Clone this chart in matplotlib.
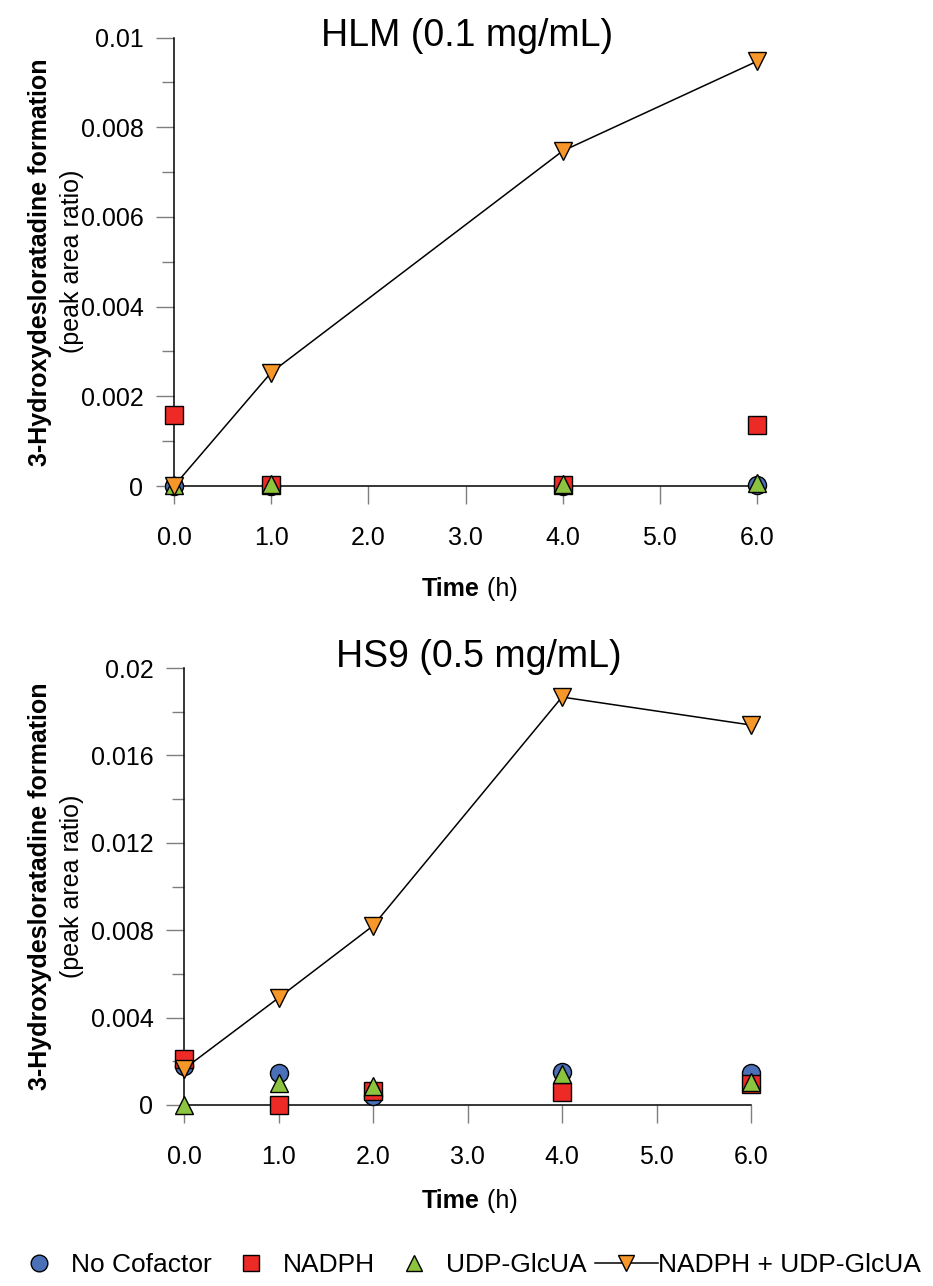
import matplotlib as mpl
mpl.use('Agg')
import matplotlib.pyplot as plt
from matplotlib.lines import Line2D
from matplotlib.ticker import MultipleLocator, FuncFormatter
from matplotlib.transforms import blended_transform_factory

plt.rcParams['font.family'] = ['Liberation Sans', 'DejaVu Sans']

# HLM incubation (0.1 mg/mL)
hlm_time = [0, 1, 4, 6]
hlm_none = [0.0, 0.0, 0.0, 0.00003]
hlm_nadph = [0.00158, 0.00002, 0.00002, 0.00136]
hlm_udp = [0.00002, 0.00004, 0.00004, 0.00007]
hlm_both = [0.0, 0.00253, 0.00747, 0.00947]

# HS9 incubation (0.5 mg/mL)
hs9_time = [0, 1, 2, 4, 6]
hs9_none = [0.0018, 0.00147, 0.0004, 0.0015, 0.00145]
hs9_nadph = [0.0021, 0.0, 0.00065, 0.0006, 0.00097]
hs9_udp = [0.0, 0.001, 0.00087, 0.0014, 0.00105]
hs9_both = [0.00165, 0.0049, 0.0082, 0.01867, 0.01739]

series_labels = ['No Cofactor', 'NADPH', 'UDP-GlcUA', 'NADPH + UDP-GlcUA']
colors = ['#4A70B8', '#EE2A26', '#8DC43F', '#F7972A']
markers = ['o', 's', '^', 'v']

W, H = 933, 1286
fig = plt.figure(figsize=(W / 100, H / 100), dpi=100)


def px_axes(left, right, top, bottom):
    return fig.add_axes([left / W, 1 - bottom / H, (right - left) / W, (bottom - top) / H])


def draw_panel(ax, t, ys, ymax, ymajor, title, title_xy):
    for i, y in enumerate(ys):
        if i == 3:
            ax.plot(t, y, color='black', lw=1.1, zorder=3, clip_on=False)
        ax.plot(t, y, linestyle='none', marker=markers[i], ms=13, mfc=colors[i],
                mec='black', mew=1.0, zorder=4 + i, clip_on=False)
    ax.set_xlim(0, 6)
    ax.set_ylim(0, ymax)
    ax.spines['top'].set_visible(False)
    ax.spines['right'].set_visible(False)
    for s in ('left', 'bottom'):
        ax.spines[s].set_linewidth(1.1)
        ax.spines[s].set_color('black')
    ax.xaxis.set_major_locator(MultipleLocator(1))
    ax.xaxis.set_major_formatter(FuncFormatter(lambda v, p: f'{v:.1f}'))
    ax.yaxis.set_major_locator(MultipleLocator(ymajor))
    ax.yaxis.set_minor_locator(MultipleLocator(ymajor / 2))
    ax.yaxis.set_major_formatter(FuncFormatter(lambda v, p: f'{v:g}'))
    ax.tick_params(axis='both', which='major', direction='out', length=13,
                   width=1.0, color='#7f7f7f', labelsize=18)
    ax.tick_params(axis='y', which='minor', direction='out', length=9,
                   width=1.0, color='#7f7f7f')
    ax.tick_params(axis='x', pad=16)
    ax.tick_params(axis='y', pad=9)

    # y label as two rotated lines: bold quantity, plain unit
    ty = blended_transform_factory(fig.transFigure, ax.transAxes)
    ax.text(40 / W, 0.5, '3-Hydroxydesloratadine formation', transform=ty,
            rotation=90, ha='center', va='center', fontsize=18, fontweight='bold')
    ax.text(72 / W, 0.5, '(peak area ratio)', transform=ty,
            rotation=90, ha='center', va='center', fontsize=18)
    fig.text(title_xy[0] / W, 1 - title_xy[1] / H, title, ha='center',
             va='baseline', fontsize=27)


def time_label(xc, yc):
    fig.text(xc / W, 1 - yc / H, 'Time', ha='right', va='center',
             fontsize=18, fontweight='bold')
    fig.text(xc / W, 1 - yc / H, ' (h)', ha='left', va='center', fontsize=18)


ax1 = px_axes(174, 757, 37.5, 486)
draw_panel(ax1, hlm_time, [hlm_none, hlm_nadph, hlm_udp, hlm_both], 0.01, 0.002,
           'HLM (0.1 mg/mL)', (467, 46))
time_label(480, 589)

ax2 = px_axes(184, 751, 668, 1105)
draw_panel(ax2, hs9_time, [hs9_none, hs9_nadph, hs9_udp, hs9_both], 0.02, 0.004,
           'HS9 (0.5 mg/mL)', (479, 667))
time_label(480, 1201)

handles = []
for i in range(4):
    handles.append(Line2D([], [], color='black', lw=1.1 if i == 3 else 0,
                          linestyle='-' if i == 3 else 'none',
                          marker=markers[i], ms=12, mfc=colors[i], mec='black', mew=1.0))
fig.legend(handles, series_labels, loc='center', bbox_to_anchor=(464 / W, 1 - 1265 / H),
           ncol=4, frameon=False, fontsize=19, handlelength=2.4, handletextpad=0.0,
           columnspacing=0.3)

fig.savefig('out.png', dpi=100)
